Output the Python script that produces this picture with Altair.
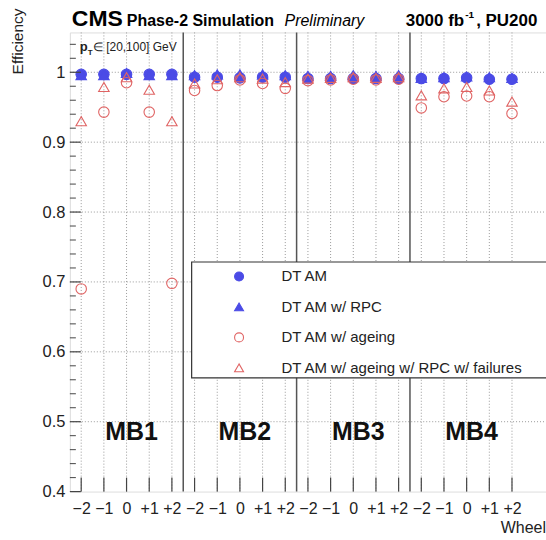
import altair as alt
import pandas as pd

# Station / wheel layout of the barrel muon chambers
stations = ["MB1", "MB2", "MB3", "MB4"]
wheels = ["−2", "−1", "0", "+1", "+2"]

series = [
    "DT AM",
    "DT AM w/ RPC",
    "DT AM w/ ageing",
    "DT AM w/ ageing w/ RPC w/ failures",
]

# Efficiency per (station, wheel): MB1 -2..+2, MB2 -2..+2, MB3 ..., MB4 ...
eff_dt_am = [0.997, 0.997, 0.997, 0.997, 0.997,
             0.993, 0.993, 0.992, 0.993, 0.993,
             0.991, 0.991, 0.991, 0.991, 0.991,
             0.991, 0.991, 0.992, 0.990, 0.990]
eff_dt_am_rpc = [0.996, 0.996, 0.999, 0.996, 0.996,
                 0.996, 0.997, 0.997, 0.997, 0.996,
                 0.995, 0.995, 0.996, 0.995, 0.996,
                 0.992, 0.993, 0.994, 0.993, 0.992]
eff_ageing = [0.690, 0.943, 0.985, 0.943, 0.698,
              0.974, 0.981, 0.989, 0.984, 0.977,
              0.988, 0.989, 0.990, 0.989, 0.990,
              0.949, 0.965, 0.966, 0.965, 0.941]
eff_failures = [0.930, 0.979, 0.993, 0.975, 0.930,
                0.984, 0.990, 0.993, 0.991, 0.986,
                0.991, 0.992, 0.993, 0.992, 0.993,
                0.967, 0.977, 0.979, 0.974, 0.958]

y_major = [0.4, 0.5, 0.6, 0.7, 0.8, 0.9, 1.0]
y_minor = [round(0.4 + 0.02 * k, 2) for k in range(33) if k % 5 != 0]

BLUE = "#4b4be6"
RED = "#e06464"
INK = "#222222"
GRID = "#9a9a9a"
FONT = "Liberation Sans"

n_bins = len(stations) * len(wheels)
rows = []
for name, vals in zip(series, [eff_dt_am, eff_dt_am_rpc, eff_ageing, eff_failures]):
    for i, v in enumerate(vals):
        rows.append({"series": name, "bin": i, "station": stations[i // 5],
                     "wheel": wheels[i % 5], "eff": v})
df = pd.DataFrame(rows)

W, H = 477, 460
x_scale = alt.Scale(domain=[-0.5, 20.5], nice=False, zero=False)
y_scale = alt.Scale(domain=[0.4, 1.057], nice=False, zero=False)

wheel_js = "[" + ",".join("'%s'" % w for w in wheels) + "]"

# one axis definition shared by every layer so the merged axes stay identical
x_axis = alt.Axis(
    values=list(range(n_bins)), labelExpr=wheel_js + "[datum.value % 5]",
    title=None, ticks=False, domain=False, grid=False, labelOverlap=False,
    labelFlush=False, labelBound=False, labelFontSize=16, labelPadding=9,
    labelColor=INK, labelFont=FONT)
y_axis = alt.Axis(
    values=y_major, labelExpr="datum.value == 1 ? '1' : format(datum.value, '.1f')",
    title=None, ticks=False, domain=False, grid=False, labelOverlap=False,
    labelFontSize=16.5, labelPadding=5, labelColor=INK, labelFont=FONT)


def xq(field):
    return alt.X(field, scale=x_scale, axis=x_axis)


def yq(field):
    return alt.Y(field, scale=y_scale, axis=y_axis)


legend = alt.Legend(
    title=None, orient="none", legendX=162, legendY=237,
    symbolSize=80, symbolStrokeWidth=1.1, labelFontSize=15, labelFont=FONT,
    labelColor=INK, labelOffset=35, rowPadding=14.5, padding=0, labelLimit=400,
)

points = alt.Chart(df).mark_point(opacity=1, size=110, strokeWidth=1.1).encode(
    x=xq("bin:Q"),
    y=yq("eff:Q"),
    shape=alt.Shape("series:N", scale=alt.Scale(
        domain=series, range=["circle", "triangle-up", "circle", "triangle-up"]), legend=legend),
    fill=alt.Fill("series:N", scale=alt.Scale(
        domain=series, range=[BLUE, BLUE, "transparent", "transparent"]), legend=legend),
    stroke=alt.Stroke("series:N", scale=alt.Scale(
        domain=series, range=[BLUE, BLUE, RED, RED]), legend=legend),
    order=alt.Order("idx:Q"),
).transform_calculate(idx="indexof(%s, datum.series)" % str(series))

# dotted grid
bins_df = pd.DataFrame({"bin": list(range(n_bins))})
grid_x = alt.Chart(bins_df).mark_rule(color=GRID, strokeWidth=1, strokeDash=[1, 2]).encode(
    x=xq("bin:Q"), y=alt.value(0), y2=alt.value(H))
grid_y = alt.Chart(pd.DataFrame({"v": y_major[1:]})).mark_rule(
    color=GRID, strokeWidth=1, strokeDash=[1, 2]).encode(
    y=yq("v:Q"), x=alt.value(0), x2=alt.value(W))

# inward tick marks
x_ticks = alt.Chart(bins_df).mark_rule(color="#444", strokeWidth=1.2).encode(
    x=xq("bin:Q"), y=alt.value(H), y2=alt.value(H - 14))
y_ticks_major = alt.Chart(pd.DataFrame({"v": y_major})).mark_rule(
    color="#444", strokeWidth=1.2).encode(
    y=yq("v:Q"), x=alt.value(0), x2=alt.value(11))
y_ticks_minor = alt.Chart(pd.DataFrame({"v": y_minor})).mark_rule(
    color="#444", strokeWidth=1).encode(
    y=yq("v:Q"), x=alt.value(0), x2=alt.value(6))

# station separators
separators = alt.Chart(pd.DataFrame({"b": [5 * k - 0.5 for k in range(1, len(stations))]})).mark_rule(
    color="#555", strokeWidth=1.5).encode(
    x=xq("b:Q"), y=alt.value(0), y2=alt.value(H))

one = pd.DataFrame({"k": [0]})

legend_box = alt.Chart(one).mark_rect(fill="white", stroke="#333", strokeWidth=1.2).encode(
    x=alt.value(122), x2=alt.value(W + 10), y=alt.value(230), y2=alt.value(346))

station_labels = alt.Chart(pd.DataFrame({
    "station": stations, "center": [5 * k + 2 for k in range(len(stations))]})).mark_text(
    fontSize=25, fontWeight="bold", font=FONT, color="#111", dx=5, baseline="middle").encode(
    x=xq("center:Q"), y=alt.value(400), text="station:N")


def label(text, x, y, size, weight="normal", style="normal", align="left", angle=0, color=INK,
          baseline="alphabetic"):
    kw = dict(text=text, fontSize=size, fontWeight=weight, fontStyle=style, align=align,
              font=FONT, color=color, baseline=baseline)
    if angle:
        kw["angle"] = angle
    return alt.Chart(one).mark_text(**kw).encode(x=alt.value(x), y=alt.value(y))


texts = [
    label("CMS", 2, -6, 23, weight="bold", color="#000"),
    label("Phase-2 Simulation", 57, -6, 16, weight="bold", color="#000"),
    label("Preliminary", 215, -6, 16, style="italic", color="#000"),
    label("3000 fb", 395, -6, 17, weight="bold", color="#000", align="right"),
    label("-1", 396, -14, 10, weight="bold", color="#000"),
    label(", PU200", 407, -6, 17, weight="bold", color="#000"),
    label("p", 10, 19, 13, weight="bold"),
    label("T", 18, 23, 8, weight="bold"),
    label("∈ [20,100] GeV", 23, 19, 12),
    label("Efficiency", -52, -24, 15.5, align="right", angle=270, baseline="middle"),
    label("Wheel", W, 501, 16, align="right"),
]

chart = alt.layer(
    grid_x, grid_y, points, separators, legend_box, x_ticks, y_ticks_major, y_ticks_minor,
    station_labels, *texts,
).properties(
    width=W, height=H,
    autosize=alt.AutoSizeParams(type="none"),
    padding={"left": 70, "top": 32, "right": 0, "bottom": 48},
).configure_view(
    stroke="#444", strokeWidth=1.5,
).configure(background="white")

chart.save("out.html", embed_options={"renderer": "svg", "actions": False})
